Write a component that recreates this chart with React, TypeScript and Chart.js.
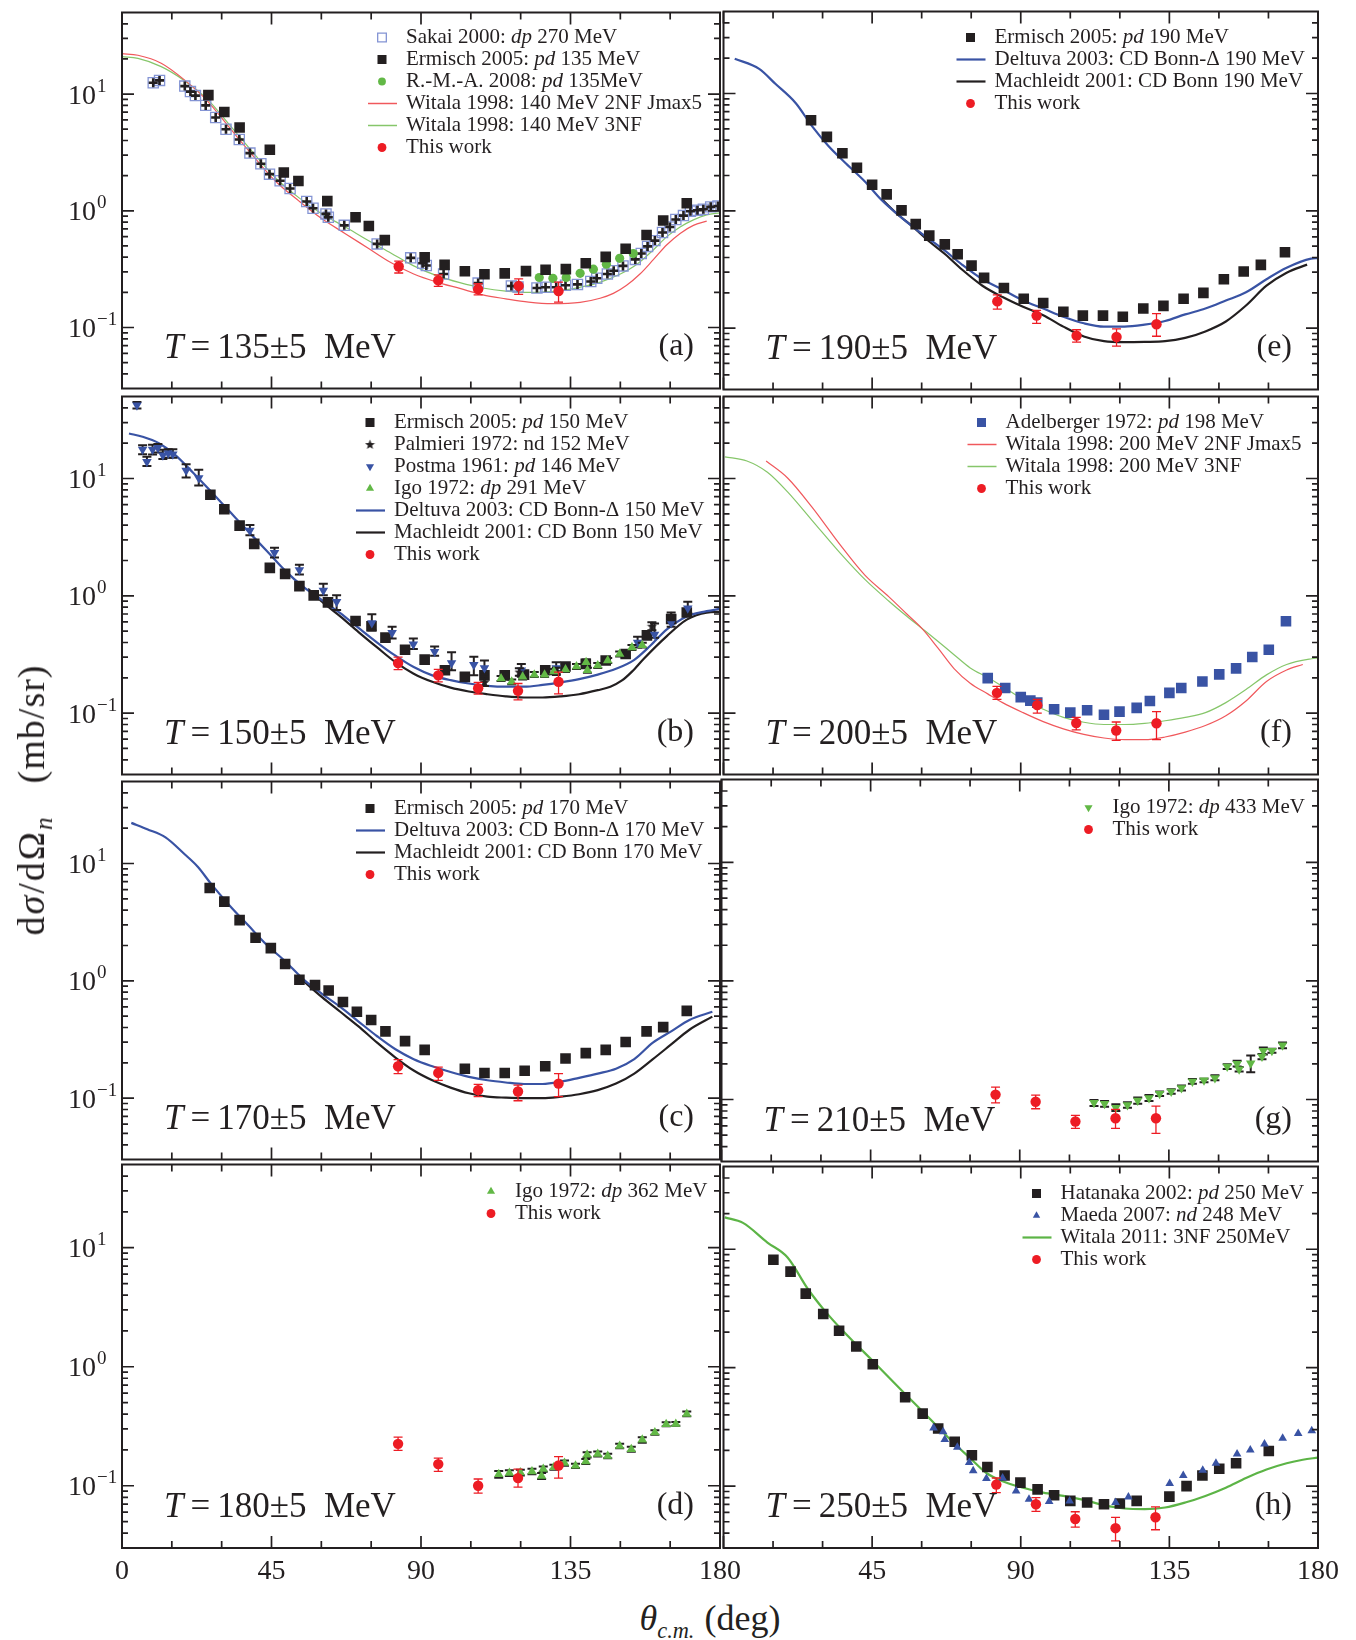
import React, { useEffect, useRef } from "react";
import { Chart, registerables } from "chart.js";

Chart.register(...registerables);

// ================= axis ticks =================
const X_MIN = 0;
const X_MAX = 180;
const Y_MIN = 0.03;
const Y_MAX = 50;
const X_MAJOR_TICKS = [0, 45, 90, 135, 180];
const X_MINOR_TICKS = [15, 30, 60, 75, 105, 120, 150, 165];
const X_TICK_LABELS = ["0", "45", "90", "135", "180"];
const Y_DECADE_TICKS = [0.1, 1, 10];
const Y_TICK_EXPONENTS = ["\u22121", "0", "1"];
const Y_MINOR_TICKS = [0.04, 0.05, 0.06, 0.07, 0.08, 0.09, 0.2, 0.3, 0.4, 0.5, 0.6, 0.7, 0.8, 0.9, 2, 3, 4, 5, 6, 7, 8, 9, 20, 30, 40];

// ================= panel (a) T = 135 MeV =================
const A_SAKAI_X = [9.4, 11.3, 18.9, 20.6, 22.1, 25.2, 28.2, 31.3, 35.3, 38.5, 41.8, 44.4, 47.6, 50.6, 55.6, 57.5, 61.4, 62.1, 66.9, 76.8, 86.9, 90.5, 91.6, 96.8, 107.2, 117.2, 119.2, 124.9, 127.5, 130.7, 133.5, 137.1, 141.1, 142.9, 146.1, 148.0, 150.8, 154.5, 156.3, 158.2, 160.4, 162.7, 164.9, 166.7, 169.0, 171.1, 173.2, 175.0, 177.2, 179.4];
const A_SAKAI_Y = [12.5, 13.1, 11.7, 10.5, 9.7, 8.0, 6.3, 5.0, 4.08, 3.12, 2.53, 2.06, 1.81, 1.55, 1.2, 1.05, 0.94, 0.88, 0.75, 0.52, 0.395, 0.355, 0.34, 0.287, 0.24, 0.227, 0.222, 0.218, 0.221, 0.221, 0.23, 0.234, 0.248, 0.264, 0.287, 0.306, 0.337, 0.383, 0.43, 0.495, 0.555, 0.652, 0.726, 0.841, 0.909, 0.99, 1.01, 1.03, 1.08, 1.1];
const A_ERM_X = [26.0, 30.8, 35.4, 44.5, 48.7, 53.1, 61.8, 70.3, 74.3, 79.1, 91.1, 97.1, 103.2, 109.1, 115.2, 121.6, 127.5, 133.6, 139.6, 145.6, 151.6, 157.9, 162.9, 170.0];
const A_ERM_Y = [9.8, 7.03, 5.17, 3.33, 2.13, 1.8, 1.21, 0.88, 0.74, 0.56, 0.40, 0.344, 0.303, 0.286, 0.291, 0.304, 0.312, 0.316, 0.355, 0.403, 0.473, 0.62, 0.826, 1.16];
const A_RMA_X = [125.6, 129.7, 133.7, 137.9, 141.9, 145.8, 149.8, 153.9];
const A_RMA_Y = [0.268, 0.264, 0.268, 0.291, 0.316, 0.348, 0.391, 0.43];
const A_W2NF_X = [0, 4.8, 11.8, 18.7, 25.6, 32.5, 39.4, 46.3, 53.3, 60.2, 67.1, 74.0, 80.9, 87.8, 94.7, 101.7, 108.6, 115.5, 122.4, 129.3, 137.9, 143.9, 147.9, 151.9, 155.9, 160.0, 164.0, 168.0, 172.0, 176.0];
const A_W2NF_Y = [22.2, 21.5, 18.4, 13.3, 8.8, 5.1, 2.97, 1.78, 1.21, 0.853, 0.64, 0.48, 0.36, 0.287, 0.245, 0.216, 0.19, 0.176, 0.165, 0.16, 0.164, 0.178, 0.196, 0.23, 0.287, 0.383, 0.511, 0.64, 0.75, 0.815];
const A_W3NF_X = [0, 4.8, 11.8, 18.7, 25.6, 32.5, 39.4, 46.3, 53.3, 60.2, 67.1, 74.0, 80.9, 87.8, 94.7, 101.7, 108.6, 115.5, 122.4, 129.3, 135.0, 140.0, 144.0, 150.0, 155.0, 160.0, 164.0, 168.0, 172.0, 176.0, 180];
const A_W3NF_Y = [20.9, 20.2, 17.2, 13.1, 9.1, 5.4, 3.16, 1.9, 1.29, 0.94, 0.73, 0.56, 0.435, 0.337, 0.278, 0.242, 0.218, 0.205, 0.2, 0.203, 0.213, 0.228, 0.245, 0.287, 0.348, 0.464, 0.6, 0.726, 0.836, 0.921, 0.96];
const A_TW_X = [83.3, 95.2, 107.2, 119.4, 131.4];
const A_TW_Y = [0.333, 0.253, 0.213, 0.227, 0.205];
const A_TW_LO = [0.293, 0.225, 0.19, 0.192, 0.165];
const A_TW_HI = [0.371, 0.282, 0.237, 0.261, 0.245];

// ================= panel (b) T = 150 MeV =================
const B_ERM_X = [26.6, 30.8, 35.4, 39.8, 44.5, 49.1, 53.4, 57.7, 62.0, 70.3, 75.1, 79.3, 85.2, 91.1, 97.2, 103.2, 109.1, 115.2, 121.0, 127.4, 133.5, 139.6, 145.6, 151.6, 158.0, 165.3, 170.0];
const B_ERM_Y = [7.26, 5.47, 3.97, 2.77, 1.73, 1.54, 1.21, 1.01, 0.88, 0.61, 0.551, 0.44, 0.347, 0.286, 0.232, 0.204, 0.21, 0.21, 0.213, 0.232, 0.25, 0.263, 0.281, 0.319, 0.46, 0.634, 0.721];
const B_PAL_X = [109.1, 119.6, 130.7, 159.5, 165.3];
const B_PAL_Y = [0.183, 0.224, 0.227, 0.551, 0.668];
const B_PAL_LO = [0.170, 0.208, 0.211, 0.51, 0.62];
const B_PAL_HI = [0.196, 0.241, 0.244, 0.595, 0.72];
const B_POS_X = [4.5, 6.2, 7.5, 9.2, 10.8, 12.3, 13.9, 15.3, 19.3, 23.1, 38.5, 45.9, 53.4, 60.6, 64.6, 75.2, 81.3, 87.7, 94.1, 99.2, 105.9, 109.1, 120.2, 130.7, 155.2, 160.3, 165.3, 170.3];
const B_POS_Y = [42.1, 17.7, 13.9, 17.7, 18.3, 15.8, 16.4, 16.1, 11.7, 10.1, 3.6, 2.33, 1.66, 1.11, 0.891, 0.587, 0.484, 0.387, 0.334, 0.267, 0.258, 0.242, 0.232, 0.242, 0.4, 0.469, 0.587, 0.784];
const B_POS_LO = [39.6, 16.1, 12.8, 16.0, 16.7, 14.7, 15.0, 15.0, 10.2, 8.7, 3.28, 2.12, 1.52, 1.01, 0.759, 0.507, 0.432, 0.352, 0.309, 0.232, 0.21, 0.213, 0.204, 0.217, 0.363, 0.44, 0.544, 0.711];
const B_POS_HI = [44.8, 19.2, 15.3, 19.4, 19.7, 17.6, 17.8, 17.8, 13.2, 11.9, 4.02, 2.57, 1.84, 1.27, 1.01, 0.698, 0.544, 0.432, 0.37, 0.33, 0.303, 0.281, 0.263, 0.272, 0.449, 0.58, 0.626, 0.891];
const B_IGO_X = [114.1, 117.3, 120.6, 124.1, 127.2, 130.0, 133.5, 136.8, 139.7, 140.1, 143.2, 146.2, 149.8, 153.5, 156.6];
const B_IGO_Y = [0.197, 0.185, 0.204, 0.213, 0.213, 0.227, 0.235, 0.25, 0.272, 0.232, 0.255, 0.281, 0.319, 0.363, 0.38];
const B_IGO_LO = [0.188, 0.176, 0.194, 0.203, 0.203, 0.216, 0.224, 0.238, 0.259, 0.221, 0.243, 0.268, 0.304, 0.346, 0.362];
const B_IGO_HI = [0.207, 0.194, 0.214, 0.224, 0.224, 0.238, 0.247, 0.263, 0.286, 0.244, 0.268, 0.295, 0.335, 0.381, 0.399];
const B_DEL_X = [2.1, 6.2, 11.1, 15.9, 21.4, 27.0, 32.5, 38.0, 43.6, 49.1, 54.6, 60.2, 65.7, 71.2, 76.8, 82.3, 87.8, 93.4, 98.9, 104.4, 110.0, 115.5, 121.0, 126.6, 132.1, 137.6, 143.2, 148.7, 154.2, 159.0, 164.0, 170.0, 176.0, 180];
const B_DEL_Y = [24.2, 22.7, 20.0, 16.0, 11.2, 7.64, 5.2, 3.54, 2.41, 1.64, 1.19, 0.92, 0.711, 0.533, 0.4, 0.309, 0.247, 0.21, 0.191, 0.179, 0.171, 0.168, 0.168, 0.174, 0.183, 0.195, 0.213, 0.239, 0.285, 0.375, 0.517, 0.668, 0.74, 0.775];
const B_MACH_X = [56.0, 60.2, 65.7, 71.2, 76.8, 82.3, 87.8, 93.4, 98.9, 104.4, 110.0, 115.5, 121.0, 126.6, 132.1, 137.6, 143.2, 147.0, 150.5, 153.5, 157.0, 164.0, 170.0, 176.0, 180];
const B_MACH_Y = [1.15, 0.891, 0.668, 0.491, 0.363, 0.272, 0.217, 0.185, 0.165, 0.153, 0.145, 0.139, 0.136, 0.136, 0.139, 0.145, 0.157, 0.168, 0.19, 0.226, 0.29, 0.454, 0.627, 0.72, 0.73];
const B_TW_X = [83.1, 95.2, 107.2, 119.2, 131.4];
const B_TW_Y = [0.267, 0.21, 0.163, 0.155, 0.185];
const B_TW_LO = [0.235, 0.185, 0.145, 0.13, 0.146];
const B_TW_HI = [0.3, 0.236, 0.183, 0.179, 0.224];

// ================= panel (c) T = 170 MeV =================
const C_ERM_X = [26.4, 30.8, 35.4, 40.2, 44.8, 49.1, 53.4, 58.1, 62.2, 66.5, 70.7, 75.0, 79.3, 85.2, 91.1, 103.2, 109.1, 115.2, 121.2, 127.4, 133.5, 139.6, 145.6, 151.6, 157.9, 162.9, 170.0];
const C_ERM_Y = [6.19, 4.73, 3.29, 2.33, 1.9, 1.39, 1.02, 0.92, 0.826, 0.66, 0.545, 0.464, 0.371, 0.306, 0.258, 0.178, 0.164, 0.164, 0.171, 0.187, 0.218, 0.242, 0.258, 0.301, 0.371, 0.403, 0.555];
const C_DEL_X = [2.8, 7.6, 13.1, 18.7, 22.8, 27.0, 32.5, 38.0, 43.6, 49.1, 54.6, 60.2, 65.7, 71.2, 76.8, 82.3, 87.8, 93.4, 98.9, 104.4, 110.0, 115.5, 121.0, 126.6, 132.1, 137.6, 143.2, 148.7, 154.2, 159.8, 165.3, 170.8, 177.7];
const C_DEL_Y = [22.2, 19.6, 16.7, 12.1, 9.38, 6.6, 4.35, 2.97, 2.02, 1.47, 1.03, 0.774, 0.6, 0.45, 0.337, 0.261, 0.215, 0.187, 0.167, 0.152, 0.142, 0.136, 0.132, 0.132, 0.138, 0.149, 0.162, 0.178, 0.215, 0.297, 0.371, 0.464, 0.545];
const C_MACH_X = [54.6, 60.2, 65.7, 71.2, 76.8, 82.3, 87.8, 93.4, 98.9, 104.4, 110.0, 115.5, 121.0, 126.6, 132.1, 137.6, 143.2, 148.7, 154.2, 159.8, 165.3, 170.8, 177.7];
const C_MACH_Y = [1.0, 0.726, 0.545, 0.409, 0.297, 0.222, 0.172, 0.142, 0.123, 0.11, 0.103, 0.101, 0.1, 0.1, 0.103, 0.108, 0.117, 0.133, 0.162, 0.215, 0.287, 0.383, 0.495];
const C_TW_X = [83.1, 95.2, 107.2, 119.2, 131.4];
const C_TW_Y = [0.187, 0.164, 0.117, 0.114, 0.133];
const C_TW_LO = [0.162, 0.142, 0.103, 0.095, 0.103];
const C_TW_HI = [0.213, 0.184, 0.131, 0.129, 0.162];

// ================= panel (d) T = 180 MeV =================
const D_IGO_X = [113.4, 116.6, 119.9, 123.4, 126.3, 126.8, 130.0, 133.2, 136.5, 139.6, 140.0, 143.2, 146.2, 149.8, 153.3, 156.6, 160.4, 163.8, 166.7, 170.0];
const D_IGO_Y = [0.125, 0.128, 0.129, 0.132, 0.121, 0.138, 0.143, 0.155, 0.147, 0.16, 0.182, 0.185, 0.178, 0.216, 0.203, 0.243, 0.28, 0.329, 0.331, 0.401];
const D_IGO_LO = [0.117, 0.121, 0.122, 0.125, 0.114, 0.131, 0.136, 0.147, 0.141, 0.152, 0.173, 0.176, 0.170, 0.207, 0.193, 0.230, 0.268, 0.316, 0.319, 0.383];
const D_IGO_HI = [0.133, 0.135, 0.136, 0.139, 0.128, 0.145, 0.150, 0.163, 0.153, 0.168, 0.191, 0.194, 0.186, 0.225, 0.213, 0.256, 0.292, 0.342, 0.343, 0.420];
const D_TW_X = [83.1, 95.2, 107.2, 119.2, 131.4];
const D_TW_Y = [0.225, 0.152, 0.1, 0.116, 0.148];
const D_TW_LO = [0.198, 0.132, 0.0868, 0.0975, 0.116];
const D_TW_HI = [0.256, 0.171, 0.114, 0.138, 0.176];

// ================= panel (e) T = 190 MeV =================
const E_ERM_X = [26.5, 31.3, 36.0, 40.4, 45.0, 49.4, 53.9, 58.2, 62.3, 67.0, 70.9, 75.1, 78.9, 84.9, 90.9, 96.8, 102.9, 108.8, 114.9, 120.9, 127.1, 133.2, 139.3, 145.3, 151.5, 157.5, 162.7, 170.0];
const E_ERM_Y = [5.92, 4.27, 3.1, 2.33, 1.67, 1.38, 1.01, 0.77, 0.615, 0.518, 0.427, 0.341, 0.268, 0.22, 0.178, 0.164, 0.138, 0.128, 0.128, 0.125, 0.147, 0.155, 0.178, 0.2, 0.261, 0.304, 0.346, 0.444];
const E_DEL_X = [3.4, 10.8, 15.7, 21.9, 26.8, 31.7, 36.6, 42.8, 47.7, 53.8, 60.0, 66.1, 72.2, 78.4, 84.5, 90.7, 96.8, 102.9, 109.1, 115.2, 121.4, 127.5, 133.7, 139.8, 145.9, 152.1, 158.2, 164.4, 170.5, 177.9, 180];
const E_DEL_Y = [19.8, 16.2, 12.1, 8.26, 5.27, 3.59, 2.61, 1.78, 1.25, 0.88, 0.64, 0.48, 0.348, 0.261, 0.213, 0.172, 0.147, 0.125, 0.11, 0.103, 0.103, 0.107, 0.115, 0.131, 0.147, 0.172, 0.202, 0.261, 0.327, 0.391, 0.395];
const E_MACH_X = [48.3, 52.6, 57.5, 62.4, 67.3, 72.2, 78.4, 84.5, 90.7, 96.8, 102.9, 109.1, 115.2, 121.4, 127.5, 133.7, 139.8, 145.9, 152.1, 158.2, 164.4, 170.5, 176.7];
const E_MACH_Y = [1.23, 0.94, 0.726, 0.545, 0.422, 0.316, 0.23, 0.184, 0.152, 0.129, 0.103, 0.085, 0.0774, 0.076, 0.0764, 0.0774, 0.0826, 0.0938, 0.114, 0.156, 0.23, 0.297, 0.348];
const E_TW_X = [82.9, 94.8, 106.9, 119.0, 131.1];
const E_TW_Y = [0.169, 0.128, 0.0863, 0.0841, 0.108];
const E_TW_LO = [0.145, 0.11, 0.076, 0.0703, 0.0853];
const E_TW_HI = [0.192, 0.142, 0.0969, 0.0987, 0.133];

// ================= panel (f) T = 200 MeV =================
const F_ADEL_X = [80.0, 85.3, 90.0, 92.9, 95.0, 100.1, 105.0, 110.1, 115.2, 119.9, 125.1, 129.1, 135.0, 138.6, 145.0, 150.1, 155.2, 160.1, 165.1, 170.3];
const F_ADEL_Y = [0.199, 0.164, 0.137, 0.128, 0.123, 0.108, 0.101, 0.106, 0.0969, 0.103, 0.111, 0.127, 0.149, 0.164, 0.186, 0.214, 0.241, 0.301, 0.347, 0.607];
const F_W2NF_X = [12.9, 19.4, 26.8, 35.4, 42.8, 50.1, 55.5, 60.0, 64.9, 69.8, 74.7, 80.0, 84.5, 90.7, 96.8, 102.9, 109.1, 115.2, 121.4, 127.5, 133.7, 139.8, 145.9, 152.1, 158.2, 164.4, 170.5, 175.4];
const F_W2NF_Y = [14.1, 10.1, 5.7, 2.7, 1.5, 0.98, 0.7, 0.53, 0.36, 0.24, 0.18, 0.146, 0.123, 0.101, 0.0847, 0.0735, 0.0659, 0.0614, 0.0594, 0.0594, 0.0626, 0.0689, 0.0784, 0.095, 0.127, 0.186, 0.233, 0.26];
const F_W3NF_X = [0.4, 7.1, 13.3, 19.4, 26.8, 35.4, 42.8, 50.1, 55.5, 60.0, 64.9, 69.8, 74.7, 80.0, 84.5, 90.7, 96.8, 102.9, 109.1, 115.2, 121.4, 127.5, 133.7, 139.8, 145.9, 152.1, 158.2, 164.4, 170.5, 178.1, 180];
const F_W3NF_Y = [15.3, 14.1, 11.3, 7.69, 4.4, 2.3, 1.38, 0.9, 0.67, 0.53, 0.41, 0.315, 0.243, 0.201, 0.169, 0.131, 0.108, 0.092, 0.0836, 0.08, 0.08, 0.0819, 0.0862, 0.092, 0.101, 0.123, 0.159, 0.212, 0.26, 0.291, 0.295];
const F_TW_X = [82.8, 95.0, 106.8, 118.9, 131.1];
const F_TW_Y = [0.149, 0.117, 0.0824, 0.0711, 0.082];
const F_TW_LO = [0.131, 0.1, 0.0721, 0.0587, 0.0594];
const F_TW_HI = [0.169, 0.131, 0.092, 0.0841, 0.103];

// ================= panel (g) T = 210 MeV =================
const G_IGO_X = [112.4, 115.6, 119.0, 122.5, 125.6, 129.0, 132.2, 135.7, 138.8, 142.1, 145.6, 148.9, 152.6, 155.6, 156.2, 159.7, 163.1, 163.5, 166.1, 169.3];
const G_IGO_Y = [0.0938, 0.092, 0.0853, 0.0897, 0.098, 0.103, 0.112, 0.117, 0.125, 0.142, 0.145, 0.152, 0.19, 0.2, 0.18, 0.202, 0.23, 0.258, 0.258, 0.287];
const G_IGO_LO = [0.088, 0.087, 0.080, 0.085, 0.092, 0.097, 0.107, 0.112, 0.119, 0.136, 0.140, 0.145, 0.181, 0.190, 0.172, 0.170, 0.219, 0.240, 0.248, 0.270];
const G_IGO_HI = [0.099, 0.097, 0.091, 0.095, 0.104, 0.109, 0.117, 0.122, 0.131, 0.149, 0.150, 0.160, 0.198, 0.212, 0.188, 0.235, 0.242, 0.275, 0.268, 0.302];
const G_TW_X = [82.7, 94.8, 106.8, 118.9, 131.1];
const G_TW_Y = [0.11, 0.0957, 0.0652, 0.0695, 0.0695];
const G_TW_LO = [0.0938, 0.0836, 0.057, 0.057, 0.0518];
const G_TW_HI = [0.127, 0.109, 0.0736, 0.0826, 0.0879];

// ================= panel (h) T = 250 MeV =================
const H_HAT_X = [15.1, 20.3, 24.9, 30.2, 35.0, 40.2, 45.2, 55.0, 60.3, 65.0, 70.0, 75.2, 79.9, 85.1, 89.9, 95.1, 100.1, 105.0, 110.1, 115.2, 120.0, 125.1, 135.0, 140.2, 145.0, 150.1, 155.2, 165.1];
const H_HAT_Y = [8.15, 6.47, 4.22, 2.84, 2.05, 1.51, 1.07, 0.562, 0.409, 0.306, 0.237, 0.182, 0.145, 0.123, 0.107, 0.0938, 0.0836, 0.075, 0.0726, 0.0703, 0.0713, 0.075, 0.0815, 0.1, 0.123, 0.14, 0.156, 0.198];
const H_MAE_X = [63.6, 66.5, 67.0, 70.8, 74.4, 75.6, 79.6, 84.5, 88.6, 92.5, 98.6, 104.8, 118.7, 122.6, 135.1, 139.2, 145.1, 149.1, 155.5, 159.5, 163.8, 169.3, 174.0, 178.1];
const H_MAE_Y = [0.31, 0.287, 0.248, 0.213, 0.158, 0.135, 0.116, 0.117, 0.0908, 0.0774, 0.074, 0.075, 0.0726, 0.081, 0.105, 0.123, 0.136, 0.156, 0.187, 0.202, 0.227, 0.253, 0.278, 0.293];
const H_W11_X = [0.4, 5.9, 13.3, 19.4, 25.5, 30.5, 35.4, 40.3, 45.2, 50.1, 55.0, 60.0, 64.9, 69.8, 74.7, 79.6, 84.5, 90.7, 96.8, 102.9, 109.1, 115.2, 121.4, 127.5, 133.7, 139.8, 145.9, 152.1, 158.2, 164.4, 170.5, 175.4, 180];
const H_W11_Y = [18.6, 16.7, 11.4, 8.53, 4.64, 3.06, 2.15, 1.56, 1.14, 0.826, 0.6, 0.435, 0.316, 0.23, 0.172, 0.129, 0.11, 0.0969, 0.088, 0.0826, 0.0764, 0.069, 0.0647, 0.0639, 0.0659, 0.0726, 0.0826, 0.0969, 0.117, 0.138, 0.156, 0.167, 0.174];
const H_TW_X = [82.6, 94.6, 106.5, 118.7, 130.8];
const H_TW_Y = [0.103, 0.0703, 0.0527, 0.0441, 0.0545];
const H_TW_LO = [0.088, 0.0611, 0.045, 0.0344, 0.0428];
const H_TW_HI = [0.117, 0.08, 0.0607, 0.0545, 0.0668];

// ================= styling =================
const FONT = '"Liberation Serif", "DejaVu Serif", serif';
const INK = "#231f20";
const COL = {
  black: "#231f20",
  red: "#ed1c24",
  greenPt: "#62b846",
  greenThin: "#86c66a",
  redThin: "#f0585c",
  blue: "#3953a4",
  sakai: "#8494d4",
  green11: "#5cb446",
};

const pts = (xs: number[], ys: number[]) => xs.map((x, i) => ({ x, y: ys[i] }));

let starCanvas: any = null;
function getStar() {
  if (starCanvas) return starCanvas;
  const c = document.createElement("canvas");
  c.width = 11;
  c.height = 11;
  const g = c.getContext("2d")!;
  g.fillStyle = COL.black;
  g.beginPath();
  for (let k = 0; k < 10; k++) {
    const a = (k * Math.PI) / 5 - Math.PI / 2;
    const r = k % 2 === 0 ? 5.2 : 2.2;
    const px = 5.5 + Math.cos(a) * r;
    const py = 5.8 + Math.sin(a) * r;
    if (k === 0) g.moveTo(px, py);
    else g.lineTo(px, py);
  }
  g.closePath();
  g.fill();
  starCanvas = c;
  return c;
}

function markers(label: string, xs: number[], ys: number[], style: any, radius: number, fill: string, extra: any = {}) {
  return {
    label,
    data: pts(xs, ys),
    showLine: false,
    pointStyle: style,
    pointRadius: radius,
    pointBackgroundColor: fill,
    pointBorderColor: fill,
    pointBorderWidth: 0,
    borderColor: fill,
    order: 3,
    ...extra,
  };
}

function curve(label: string, xs: number[], ys: number[], color: string, width: number) {
  return {
    label,
    data: pts(xs, ys),
    showLine: true,
    isLine: true,
    pointRadius: 0,
    borderColor: color,
    borderWidth: width,
    backgroundColor: color,
    fill: false,
    cubicInterpolationMode: "monotone",
    order: 6,
  };
}

function thisWork(xs: number[], ys: number[], lo: number[], hi: number[]) {
  return markers("This work", xs, ys, "circle", 5.2, COL.red, {
    order: 0,
    errLow: lo,
    errHigh: hi,
    errColor: COL.red,
    errWidth: 1.3,
    errCap: 4.5,
  });
}

function blackErr(lo: number[], hi: number[]) {
  return { errLow: lo, errHigh: hi, errColor: COL.black, errWidth: 2, errCap: 4.5 };
}

function datasetsA() {
  return [
    markers("Sakai 2000: *dp* 270 MeV", A_SAKAI_X, A_SAKAI_Y, "rect", 7.2, "rgba(0,0,0,0)", {
      pointBorderColor: COL.sakai,
      pointBorderWidth: 1.3,
      order: 4,
    }),
    markers("Ermisch 2005: *pd* 135 MeV", A_ERM_X, A_ERM_Y, "rect", 7.5, COL.black, { order: 2 }),
    markers("R.-M.-A. 2008: *pd* 135MeV", A_RMA_X, A_RMA_Y, "circle", 4.6, COL.greenPt, { order: 2 }),
    curve("Witala 1998: 140 MeV 2NF Jmax5", A_W2NF_X, A_W2NF_Y, COL.redThin, 1.2),
    curve("Witala 1998: 140 MeV 3NF", A_W3NF_X, A_W3NF_Y, COL.greenThin, 1.2),
    thisWork(A_TW_X, A_TW_Y, A_TW_LO, A_TW_HI),
    markers("", A_SAKAI_X, A_SAKAI_Y, "cross", 4.5, COL.black, {
      pointBorderColor: COL.black,
      pointBorderWidth: 2.6,
      hideLegend: true,
      order: 3,
    }),
  ];
}

function datasetsB() {
  return [
    markers("Ermisch 2005: *pd* 150 MeV", B_ERM_X, B_ERM_Y, "rect", 7.5, COL.black, { order: 3 }),
    markers("Palmieri 1972: nd 152 MeV", B_PAL_X, B_PAL_Y, getStar(), 5, COL.black, { order: 2, ...blackErr(B_PAL_LO, B_PAL_HI) }),
    markers("Postma 1961: *pd* 146 MeV", B_POS_X, B_POS_Y, "triangle", 5.5, COL.blue, {
      pointRotation: 180,
      order: 2,
      ...blackErr(B_POS_LO, B_POS_HI),
    }),
    markers("Igo 1972: *dp* 291 MeV", B_IGO_X, B_IGO_Y, "triangle", 5.5, COL.greenPt, { order: 1, ...blackErr(B_IGO_LO, B_IGO_HI) }),
    curve("Deltuva 2003: CD Bonn-\u0394 150 MeV", B_DEL_X, B_DEL_Y, COL.blue, 2.2),
    curve("Machleidt 2001: CD Bonn 150 MeV", B_MACH_X, B_MACH_Y, COL.black, 2.2),
    thisWork(B_TW_X, B_TW_Y, B_TW_LO, B_TW_HI),
  ];
}

function datasetsC() {
  return [
    markers("Ermisch 2005: *pd* 170 MeV", C_ERM_X, C_ERM_Y, "rect", 7.5, COL.black),
    curve("Deltuva 2003: CD Bonn-\u0394 170 MeV", C_DEL_X, C_DEL_Y, COL.blue, 2.2),
    curve("Machleidt 2001: CD Bonn 170 MeV", C_MACH_X, C_MACH_Y, COL.black, 2.2),
    thisWork(C_TW_X, C_TW_Y, C_TW_LO, C_TW_HI),
  ];
}

function datasetsD() {
  return [
    markers("Igo 1972: *dp* 362 MeV", D_IGO_X, D_IGO_Y, "triangle", 5.5, COL.greenPt, blackErr(D_IGO_LO, D_IGO_HI)),
    thisWork(D_TW_X, D_TW_Y, D_TW_LO, D_TW_HI),
  ];
}

function datasetsE() {
  return [
    markers("Ermisch 2005: *pd* 190 MeV", E_ERM_X, E_ERM_Y, "rect", 7.5, COL.black),
    curve("Deltuva 2003: CD Bonn-\u0394 190 MeV", E_DEL_X, E_DEL_Y, COL.blue, 2.2),
    curve("Machleidt 2001: CD Bonn 190 MeV", E_MACH_X, E_MACH_Y, COL.black, 2.2),
    thisWork(E_TW_X, E_TW_Y, E_TW_LO, E_TW_HI),
  ];
}

function datasetsF() {
  return [
    markers("Adelberger 1972: *pd* 198 MeV", F_ADEL_X, F_ADEL_Y, "rect", 7.5, COL.blue),
    curve("Witala 1998: 200 MeV 2NF Jmax5", F_W2NF_X, F_W2NF_Y, COL.redThin, 1.2),
    curve("Witala 1998: 200 MeV 3NF", F_W3NF_X, F_W3NF_Y, COL.greenThin, 1.2),
    thisWork(F_TW_X, F_TW_Y, F_TW_LO, F_TW_HI),
  ];
}

function datasetsG() {
  return [
    markers("Igo 1972: *dp* 433 MeV", G_IGO_X, G_IGO_Y, "triangle", 5.5, COL.greenPt, {
      pointRotation: 180,
      ...blackErr(G_IGO_LO, G_IGO_HI),
    }),
    thisWork(G_TW_X, G_TW_Y, G_TW_LO, G_TW_HI),
  ];
}

function datasetsH() {
  return [
    markers("Hatanaka 2002: *pd* 250 MeV", H_HAT_X, H_HAT_Y, "rect", 7.5, COL.black),
    markers("Maeda 2007: *nd* 248 MeV", H_MAE_X, H_MAE_Y, "triangle", 5, COL.blue, { order: 2 }),
    curve("Witala 2011: 3NF 250MeV", H_W11_X, H_W11_Y, COL.green11, 2.2),
    thisWork(H_TW_X, H_TW_Y, H_TW_LO, H_TW_HI),
  ];
}

// ================= layout =================
const COL_X = [122, 720];
const ROW_Y = [8, 393, 778, 1163];
const PW = 598;
const PH = 385;

const PANELS = [
  { col: 0, row: 0, energy: "135\u00b15", letter: "(a)", legendX: 284, legendY: 25, build: datasetsA },
  { col: 0, row: 1, energy: "150\u00b15", letter: "(b)", legendX: 272, legendY: 26, build: datasetsB },
  { col: 0, row: 2, energy: "170\u00b15", letter: "(c)", legendX: 272, legendY: 27, build: datasetsC },
  { col: 0, row: 3, energy: "180\u00b15", letter: "(d)", legendX: 393, legendY: 27, build: datasetsD },
  { col: 1, row: 0, energy: "190\u00b15", letter: "(e)", legendX: 271, legendY: 26, build: datasetsE },
  { col: 1, row: 1, energy: "200\u00b15", letter: "(f)", legendX: 282, legendY: 26, build: datasetsF },
  { col: 1, row: 2, energy: "210\u00b15", letter: "(g)", legendX: 391, legendY: 28, build: datasetsG },
  { col: 1, row: 3, energy: "250\u00b15", letter: "(h)", legendX: 337, legendY: 27, build: datasetsH },
];

// ================= plugins =================
const errorBarPlugin = {
  id: "errorBars",
  beforeDatasetDraw(chart: any, args: any) {
    const ds: any = chart.data.datasets[args.index];
    if (!ds.errLow) return;
    const { ctx, chartArea, scales } = chart;
    ctx.save();
    ctx.beginPath();
    ctx.rect(chartArea.left, chartArea.top, chartArea.right - chartArea.left, chartArea.bottom - chartArea.top);
    ctx.clip();
    ctx.strokeStyle = ds.errColor;
    ctx.lineWidth = ds.errWidth;
    ds.data.forEach((p: any, i: number) => {
      const x = scales.x.getPixelForValue(p.x);
      const y1 = scales.y.getPixelForValue(ds.errLow[i]);
      const y2 = scales.y.getPixelForValue(ds.errHigh[i]);
      const c = ds.errCap;
      ctx.beginPath();
      ctx.moveTo(x, y1);
      ctx.lineTo(x, y2);
      ctx.moveTo(x - c, y1);
      ctx.lineTo(x + c, y1);
      ctx.moveTo(x - c, y2);
      ctx.lineTo(x + c, y2);
      ctx.stroke();
    });
    ctx.restore();
  },
};

function drawRich(ctx: any, text: string, x: number, y: number, size: number) {
  const parts = text.split("*");
  let cx = x;
  parts.forEach((s, i) => {
    if (!s) return;
    ctx.font = `${i % 2 ? "italic " : ""}${size}px ${FONT}`;
    ctx.fillText(s, cx, y);
    cx += ctx.measureText(s).width;
  });
  return cx;
}

function drawLegendMarker(ctx: any, ds: any, x: number, y: number) {
  const style = ds.pointStyle;
  if (style && typeof style === "object") {
    ctx.drawImage(style, x - style.width / 2, y - style.height / 2);
    return;
  }
  const r = ds.pointRadius * 0.85;
  ctx.save();
  ctx.translate(x, y);
  ctx.rotate(((ds.pointRotation || 0) * Math.PI) / 180);
  ctx.beginPath();
  if (style === "rect") {
    const s = r * Math.SQRT1_2;
    ctx.rect(-s, -s, 2 * s, 2 * s);
  } else if (style === "triangle") {
    for (let k = 0; k < 3; k++) {
      const a = (k * 2 * Math.PI) / 3;
      const px = Math.sin(a) * r;
      const py = -Math.cos(a) * r;
      if (k === 0) ctx.moveTo(px, py);
      else ctx.lineTo(px, py);
    }
    ctx.closePath();
  } else {
    ctx.arc(0, 0, r, 0, Math.PI * 2);
  }
  ctx.fillStyle = ds.pointBackgroundColor;
  ctx.fill();
  if (ds.pointBorderWidth) {
    ctx.lineWidth = ds.pointBorderWidth;
    ctx.strokeStyle = ds.pointBorderColor;
    ctx.stroke();
  }
  ctx.restore();
}

const decoPlugin = {
  id: "deco",
  afterDatasetsDraw(chart: any) {
    const { ctx, chartArea, scales } = chart;
    const { left, right, top, bottom } = chartArea;
    ctx.save();
    ctx.strokeStyle = INK;
    ctx.lineWidth = 1.7;
    ctx.beginPath();
    const xt = (v: number, len: number) => {
      const x = scales.x.getPixelForValue(v);
      ctx.moveTo(x, bottom);
      ctx.lineTo(x, bottom - len);
      ctx.moveTo(x, top);
      ctx.lineTo(x, top + len);
    };
    const yt = (v: number, len: number) => {
      const y = scales.y.getPixelForValue(v);
      ctx.moveTo(left, y);
      ctx.lineTo(left + len, y);
      ctx.moveTo(right, y);
      ctx.lineTo(right - len, y);
    };
    X_MAJOR_TICKS.forEach((v) => xt(v, 12));
    X_MINOR_TICKS.forEach((v) => xt(v, 7));
    Y_DECADE_TICKS.forEach((v) => yt(v, 12));
    Y_MINOR_TICKS.forEach((v) => yt(v, 6));
    ctx.stroke();
    ctx.lineWidth = 2;
    ctx.strokeRect(left, top, right - left, bottom - top);
    ctx.restore();
  },
  afterDraw(chart: any, _args: any, o: any) {
    const { ctx, chartArea, scales } = chart;
    const { left, right, top, bottom } = chartArea;
    ctx.save();
    ctx.fillStyle = INK;
    ctx.textAlign = "left";

    // legend
    ctx.textBaseline = "middle";
    let row = 0;
    chart.data.datasets.forEach((ds: any) => {
      if (ds.hideLegend) return;
      const ty = top + o.legendY + row * 22;
      const tx = left + o.legendX;
      if (ds.isLine) {
        ctx.save();
        ctx.strokeStyle = ds.borderColor;
        ctx.lineWidth = Math.max(ds.borderWidth, 1.5);
        ctx.beginPath();
        ctx.moveTo(tx - 38, ty);
        ctx.lineTo(tx - 9, ty);
        ctx.stroke();
        ctx.restore();
      } else {
        drawLegendMarker(ctx, ds, tx - 24, ty);
      }
      ctx.fillStyle = INK;
      drawRich(ctx, ds.label, tx, ty, 21);
      row++;
    });

    // energy label and panel letter
    ctx.textBaseline = "alphabetic";
    drawRich(ctx, `*T*\u2009=\u2009${o.energy}  MeV`, left + 42, bottom - 31, 35);
    ctx.font = `32px ${FONT}`;
    ctx.textAlign = "right";
    ctx.fillText(o.letter, right - 26, bottom - 34);

    // y tick labels
    if (o.yLabels) {
      ctx.textAlign = "left";
      Y_DECADE_TICKS.forEach((v, i) => {
        const y = scales.y.getPixelForValue(v);
        const x0 = left - 54;
        ctx.font = `28px ${FONT}`;
        ctx.fillText("10", x0, y + 9.5);
        const w = ctx.measureText("10").width;
        ctx.font = `19px ${FONT}`;
        ctx.fillText(Y_TICK_EXPONENTS[i], x0 + w + 1, y - 2.5);
      });
    }
    // x tick labels
    if (o.xLabels) {
      ctx.textAlign = "center";
      ctx.font = `28px ${FONT}`;
      X_MAJOR_TICKS.forEach((v, i) => {
        if (o.skipFirstX && i === 0) return;
        ctx.fillText(X_TICK_LABELS[i], scales.x.getPixelForValue(v), bottom + 31);
      });
    }
    ctx.restore();
  },
};

function Panel({ p }: { p: any }) {
  const ref = useRef<HTMLCanvasElement>(null);
  const padL = p.col === 0 ? 122 : 4;
  const padR = 34;
  const padT = 4;
  const padB = p.row === 3 ? 50 : 4;
  const w = padL + PW + padR;
  const h = padT + PH + padB;
  useEffect(() => {
    const chart = new Chart(ref.current as HTMLCanvasElement, {
      type: "line",
      data: { datasets: p.build() as any },
      options: {
        responsive: false,
        animation: false,
        devicePixelRatio: 1,
        events: [],
        layout: { padding: { left: padL, right: padR, top: padT, bottom: padB } },
        scales: {
          x: { type: "linear", min: X_MIN, max: X_MAX, display: false },
          y: { type: "logarithmic", min: Y_MIN, max: Y_MAX, display: false },
        },
        plugins: {
          legend: { display: false },
          tooltip: { enabled: false },
          title: { display: false },
          deco: {
            energy: p.energy,
            letter: p.letter,
            legendX: p.legendX,
            legendY: p.legendY,
            yLabels: p.col === 0,
            xLabels: p.row === 3,
            skipFirstX: p.col === 1,
          },
        } as any,
      },
      plugins: [errorBarPlugin as any, decoPlugin as any],
    });
    return () => chart.destroy();
  }, []);
  return (
    <canvas
      ref={ref}
      width={w}
      height={h}
      style={{ position: "absolute", left: COL_X[p.col] - padL, top: ROW_Y[p.row] - padT, width: w, height: h }}
    />
  );
}

export default function App() {
  return (
    <div style={{ position: "absolute", left: 0, top: 0, width: 1356, height: 1640, background: "#fff", overflow: "hidden" }}>
      {PANELS.map((p, i) => (
        <Panel key={i} p={p} />
      ))}
      <div
        style={{
          position: "absolute",
          left: 31,
          top: 800,
          transform: "translate(-50%, -50%) rotate(-90deg)",
          whiteSpace: "nowrap",
          fontFamily: FONT,
          fontSize: 38,
          lineHeight: 1,
          color: INK,
        }}
      >
        <span style={{ letterSpacing: 2 }}>
          d<i>σ</i>/dΩ
        </span>
        <span style={{ fontSize: "0.66em", fontStyle: "italic", position: "relative", top: "0.3em" }}>n</span>
        <span style={{ marginLeft: 34, letterSpacing: 1 }}>(mb/sr)</span>
      </div>
      <div
        style={{
          position: "absolute",
          left: 710,
          top: 1600,
          transform: "translateX(-50%)",
          whiteSpace: "nowrap",
          fontFamily: FONT,
          fontSize: 36,
          lineHeight: 1,
          color: INK,
        }}
      >
        <i>θ</i>
        <span style={{ fontSize: "0.62em", fontStyle: "italic", position: "relative", top: "0.35em" }}>c.m.</span>
        <span style={{ marginLeft: 10 }}>(deg)</span>
      </div>
    </div>
  );
}
